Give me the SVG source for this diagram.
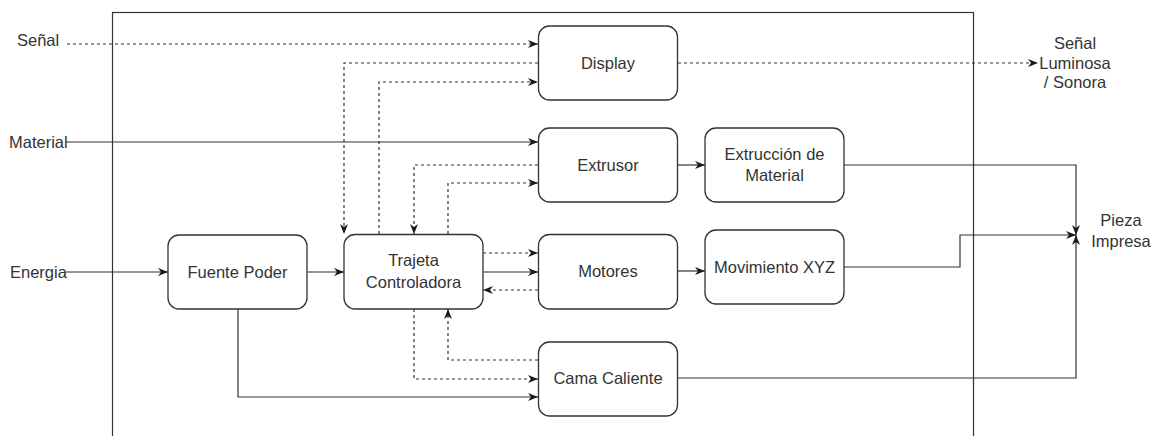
<svg xmlns="http://www.w3.org/2000/svg" width="1155" height="436" viewBox="0 0 1155 436">
<defs>
<marker id="arr" viewBox="0 0 10 10" refX="10" refY="5" markerWidth="10" markerHeight="10" markerUnits="userSpaceOnUse" orient="auto">
<path d="M0,1 L10,5 L0,9 L3,5 z" fill="#1a1a1a"/>
</marker>
</defs>
<style>
.box{fill:#ffffff;stroke:#333333;stroke-width:1.3}
.t{font-family:"Liberation Sans",Arial,sans-serif;font-size:16.5px;fill:#333333;text-anchor:middle}
.tl{font-family:"Liberation Sans",Arial,sans-serif;font-size:16.5px;fill:#333333}
.c{fill:none;stroke:#333333;stroke-width:1.2;marker-end:url(#arr)}
.d{stroke-dasharray:3 3}
.frame{fill:none;stroke:#333333;stroke-width:1.2}
</style>
<rect width="1155" height="436" fill="#ffffff"/>
<rect class="frame" x="112.5" y="12.5" width="861" height="440"/>

<g id="connectors">
<path class="c d" d="M67,44 H538"/>
<path class="c d" d="M538,63 H344 V234"/>
<path class="c d" d="M379,234 V82 H538"/>
<path class="c d" d="M678,63 H1038"/>
<path class="c" d="M66,142 H538"/>
<path class="c d" d="M538,165 H414 V234"/>
<path class="c d" d="M448,234 V183 H538"/>
<path class="c" d="M678,165 H705"/>
<path class="c" d="M844,165 H1076 V235"/>
<path class="c" d="M66,272 H168"/>
<path class="c" d="M307,272 H344"/>
<path class="c d" d="M483,253 H538"/>
<path class="c" d="M483,272 H538"/>
<path class="c d" d="M538,290 H483"/>
<path class="c" d="M678,271 H705"/>
<path class="c" d="M844,267 H960 V235 H1076"/>
<path class="c d" d="M538,360 H448 V309"/>
<path class="c d" d="M414,309 V379 H538"/>
<path class="c" d="M238,309 V397 H538"/>
<path class="c" d="M678,378 H1076 V235"/>
</g>

<g id="display"><rect class="box" x="538.5" y="26" width="139" height="74" rx="11"/><text class="t" x="608" y="69">Display</text></g>
<g id="extrusor"><rect class="box" x="538.5" y="128" width="139" height="74" rx="11"/><text class="t" x="608" y="171">Extrusor</text></g>
<g id="extruccion"><rect class="box" x="705" y="128" width="139" height="74" rx="11"/><text class="t" x="774.5" y="160">Extrucción de</text><text class="t" x="774.5" y="181">Material</text></g>
<g id="fuente"><rect class="box" x="168" y="235" width="139" height="74" rx="11"/><text class="t" x="237.5" y="278">Fuente Poder</text></g>
<g id="trajeta"><rect class="box" x="344" y="234.5" width="139" height="74.5" rx="11"/><text class="t" x="413.5" y="266">Trajeta</text><text class="t" x="413.5" y="288">Controladora</text></g>
<g id="motores"><rect class="box" x="538.5" y="234.5" width="139" height="74.5" rx="11"/><text class="t" x="608" y="277">Motores</text></g>
<g id="movimiento"><rect class="box" x="705" y="230" width="139" height="74" rx="11"/><text class="t" x="774.5" y="273">Movimiento XYZ</text></g>
<g id="cama"><rect class="box" x="538.5" y="342" width="139" height="74" rx="11"/><text class="t" x="608" y="384">Cama Caliente</text></g>

<g id="senal"><text class="tl" x="17" y="46">Señal</text></g>
<g id="material"><text class="tl" x="9" y="148">Material</text></g>
<g id="energia"><text class="tl" x="10" y="278">Energia</text></g>
<g id="senal-luminosa"><text class="t" x="1075" y="49">Señal</text><text class="t" x="1075" y="69">Luminosa</text><text class="t" x="1075" y="88">/ Sonora</text></g>
<g id="pieza"><text class="t" x="1121" y="226">Pieza</text><text class="t" x="1121" y="247">Impresa</text></g>
</svg>
